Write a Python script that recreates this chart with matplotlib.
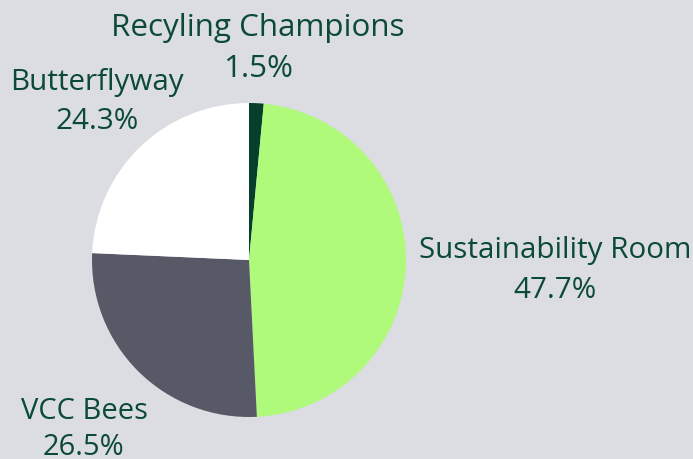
import matplotlib.pyplot as plt

# Daten
labels = ["Recyling Champions", "Sustainability Room", "VCC Bees", "Butterflyway"]
shares = [1.5, 47.7, 26.5, 24.3]
colors = ["#073f2c", "#affa7b", "#575a66", "#ffffff"]

bg = "#dcdce3"
txt = "#0b4a35"
W, H = 693, 459

fig = plt.figure(figsize=(W / 100, H / 100), dpi=100, facecolor=bg)

# Kreis: Mitte (249, 260), Radius 157 px
cx, cy, r = 249, 260, 157
ax = fig.add_axes([(cx - r) / W, (H - cy - r) / H, 2 * r / W, 2 * r / H])
ax.set_facecolor(bg)
ax.pie(shares, colors=colors, startangle=90, counterclock=False,
       wedgeprops=dict(linewidth=0))
ax.set_xlim(-1, 1)
ax.set_ylim(-1, 1)
ax.set_aspect("equal")
ax.axis("off")

# Beschriftungen: x-Mitte, Grundlinie Name, Grundlinie Prozent (Pixel)
label_pos = [(258, 36, 77, 22.6), (555, 258, 298, 21.3),
             (84, 419, 455, 21.0), (97, 90, 129, 21.3)]
for name, val, (x, y1, y2, fs) in zip(labels, shares, label_pos):
    fig.text(x / W, 1 - y1 / H, name, ha="center", va="baseline",
             fontsize=fs, color=txt, family="Open Sans")
    fig.text(x / W, 1 - y2 / H, f"{val}%", ha="center", va="baseline",
             fontsize=fs, color=txt, family="Open Sans")

fig.savefig("out.png", dpi=100, facecolor=bg)
